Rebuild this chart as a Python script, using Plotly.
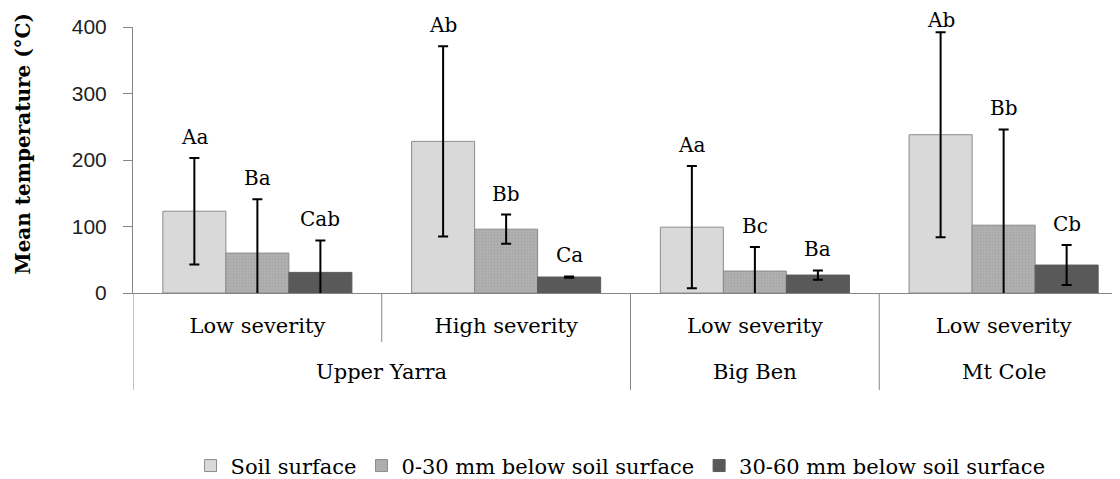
import plotly.graph_objects as go

# ---- data ----
sites = ["Upper Yarra", "Upper Yarra", "Big Ben", "Mt Cole"]
severity = ["Low severity", "High severity", "Low severity", "Low severity"]

series_names = ["Soil surface", "0-30 mm below soil surface", "30-60 mm below soil surface"]

surface = [123, 228, 99, 238]
surface_err = [80, 143, 92, 154]
surface_lbl = ["Aa", "Ab", "Aa", "Ab"]

mid = [60, 96, 33, 102]
mid_err = [81, 22, 36, 144]
mid_lbl = ["Ba", "Bb", "Bc", "Bb"]

deep = [31, 24, 27, 42]
deep_err = [48, 1, 7, 30]
deep_lbl = ["Cab", "Ca", "Ba", "Cb"]

y_ticks = [0, 100, 200, 300, 400]
y_max = 400

# ---- styling ----
fills = ["#d9d9d9", "#a9a9a9", "#595959"]
borders = ["#8c8c8c", "#8c8c8c", "#595959"]
patterns = [None, dict(shape=".", fgcolor="#999999", bgcolor="#b0b0b0", size=3, solidity=0.35), None]
SERIF = "DejaVu Serif"
SANS = "Liberation Sans"
AXIS_COLOR = "#868686"
BARGAP = 0.24
W, H = 1120, 479
M = dict(l=125, r=0, t=19, b=194)
PLOT_H = H - M["t"] - M["b"]
LABEL_SIZE = 20
LABEL_NEED = LABEL_SIZE * 1.35
LABEL_SHIFT = 9

idx = list(range(len(sites)))
values = [surface, mid, deep]
errs = [surface_err, mid_err, deep_err]
lbls = [surface_lbl, mid_lbl, deep_lbl]
n_series = len(values)
bar_w = (1 - BARGAP) / n_series

fig = go.Figure()
for j in range(n_series):
    marker = dict(color=fills[j], line=dict(color=borders[j], width=1))
    if patterns[j]:
        marker["pattern"] = patterns[j]
    fig.add_trace(go.Bar(
        x=idx, y=values[j], name=series_names[j], marker=marker,
        error_y=dict(type="data", array=errs[j], visible=True,
                     color="black", thickness=2, width=5),
    ))

annotations = []
# significance letters above error bars (kept inside the figure's top edge)
for j in range(n_series):
    off = (j - (n_series - 1) / 2) * bar_w
    for i in idx:
        top = values[j][i] + errs[j][i]
        headroom = M["t"] + (y_max - top) / y_max * PLOT_H - LABEL_NEED
        shift = max(0, min(LABEL_SHIFT, headroom))
        annotations.append(dict(
            x=i + off, y=top, xref="x", yref="y",
            text=lbls[j][i], showarrow=False, yanchor="bottom", yshift=shift,
            height=LABEL_SIZE,
            font=dict(family=SERIF, size=LABEL_SIZE, color="black"),
        ))

# outer (site) labels
site_order = []
for s in sites:
    if s not in site_order:
        site_order.append(s)
for s in site_order:
    members = [i for i in idx if sites[i] == s]
    annotations.append(dict(
        x=sum(members) / len(members), y=-0.297, xref="x", yref="paper",
        text=s, showarrow=False, yanchor="middle",
        font=dict(family=SERIF, size=21, color="black"),
    ))

# y-axis title
annotations.append(dict(
    text="Mean temperature (°C)", textangle=-90, showarrow=False,
    xref="paper", x=0, xanchor="center", xshift=-110,
    yref="paper", y=0.562, yanchor="middle",
    font=dict(family=SERIF, size=20, color="black", weight="bold"),
))

# category dividers
shapes = []
for i in range(len(sites) + 1):
    inner = 0 < i < len(sites) and sites[i - 1] == sites[i]
    shapes.append(dict(
        type="line", xref="x", yref="paper", x0=i - 0.5, x1=i - 0.5,
        y0=0, y1=-0.184 if inner else -0.365,
        line=dict(color=AXIS_COLOR, width=1),
    ))

fig.update_layout(
    width=W, height=H,
    margin=M,
    paper_bgcolor="white", plot_bgcolor="white",
    barmode="group", bargap=BARGAP, bargroupgap=0,
    showlegend=True,
    legend=dict(orientation="h", x=0.49, xanchor="center", y=-0.65, yanchor="middle",
                font=dict(family=SERIF, size=21, color="black"),
                itemwidth=30, traceorder="normal"),
    annotations=annotations, shapes=shapes,
)
fig.update_xaxes(
    range=[-0.5, 3.5], tickvals=idx, ticktext=severity,
    showline=True, linecolor=AXIS_COLOR, linewidth=1,
    ticks="", ticklabelstandoff=14,
    tickfont=dict(family=SERIF, size=21, color="black"),
    showgrid=False, zeroline=False, automargin=False,
)
fig.update_yaxes(
    range=[0, y_max], tickvals=y_ticks,
    showline=True, linecolor=AXIS_COLOR, linewidth=1,
    ticks="outside", ticklen=9, tickcolor=AXIS_COLOR,
    ticklabelstandoff=12,
    tickfont=dict(family=SANS, size=21, color="#222222"),
    showgrid=False, zeroline=False, automargin=False,
)

fig.write_html("out.html")
